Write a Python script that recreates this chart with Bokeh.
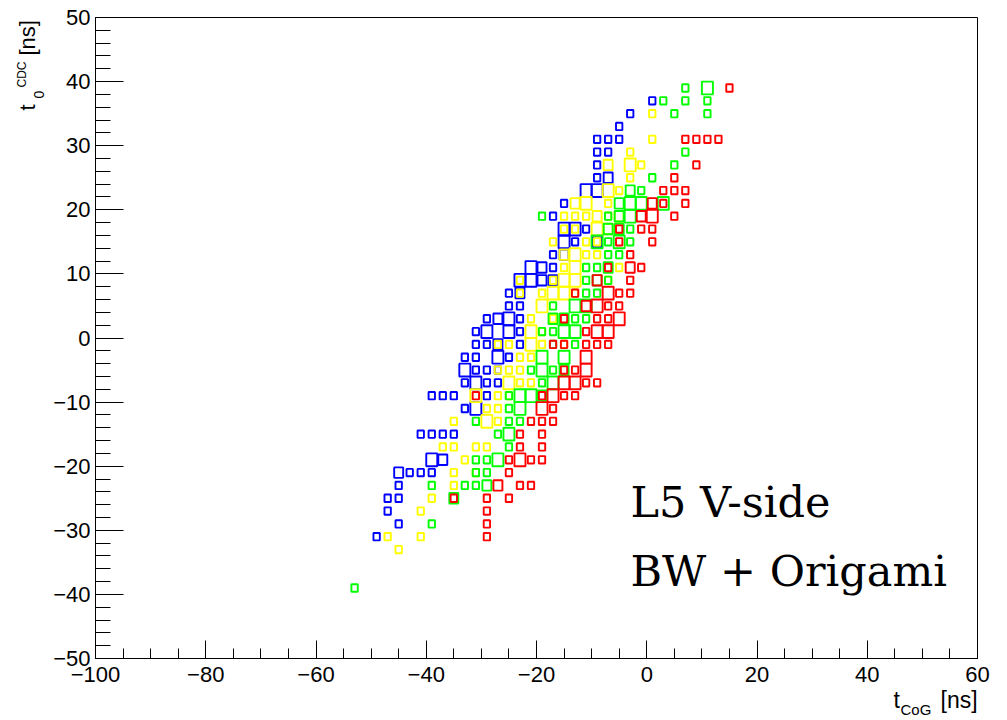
import math
from bokeh.plotting import figure
from bokeh.models import Range1d, FixedTicker, Label, LinearAxis
from bokeh.embed import file_html
from bokeh.resources import INLINE

# ---- data: 2D histogram bins (bin centre x, bin centre y, count) ----
blue_x = [1, -3, -5, -9, -7, -5, -9, -7, -9, -9, -7, -11, -9, -15, -17, -15, -13, -11,
          -15, -13, -9, -17, -15, -21, -19, -17, -23, -21, -19, -17, -25, -23, -25, -23,
          -29, -27, -25, -23, -31, -29, -25, -23, -31, -29, -27, -23, -33, -31, -27, -25,
          -33, -31, -29, -27, -33, -31, -29, -27, -39, -37, -35, -29, -33, -31,
          -41, -39, -37, -35, -39, -37, -45, -43, -41, -39, -45, -47, -45, -47, -45, -49]
blue_y = [37, 35, 33, 31, 31, 31, 29, 29, 27, 25, 25, 23, 23, 21, 19, 17, 17, 17,
          15, 15, 15, 13, 13, 11, 11, 11, 9, 9, 9, 9, 7, 7, 5, 5,
          3, 3, 3, 3, 1, 1, 1, 1, -1, -1, -1, -1, -3, -3, -3, -3,
          -5, -5, -5, -5, -7, -7, -7, -7, -9, -9, -9, -9, -11, -11,
          -15, -15, -15, -15, -19, -19, -21, -21, -21, -21, -23, -25, -25, -27, -29, -31]
blue_n = [1, 1, 1, 1, 1, 1, 1, 1, 1, 1, 2, 3, 3, 1, 1, 3, 3, 1,
          3, 1, 2, 1, 2, 3, 2, 1, 3, 3, 2, 2, 1, 2, 1, 1,
          1, 2, 3, 1, 1, 3, 3, 1, 1, 1, 2, 1, 1, 1, 3, 1,
          3, 1, 1, 1, 1, 3, 1, 1, 1, 1, 1, 1, 1, 3,
          1, 1, 1, 1, 3, 2, 2, 1, 1, 1, 1, 1, 1, 1, 1, 1]

yellow_x = [1, 1, -3, -7, -3, -1, -3, -7, -5, -13, -11, -7,
            -15, -13, -11, -9, -7, -5, -15, -13, -9, -7, -17, -11, -9,
            -15, -13, -11, -9, -15, -13, -5, -23, -17, -15, -13, -7,
            -23, -19, -17, -15, -13, -19, -21, -17, -21, -19,
            -27, -25, -21, -19, -15, -23, -21, -27, -25, -23, -25, -23, -21,
            -31, -27, -25, -29, -27, -35, -29, -27, -37, -35, -31, -29,
            -33, -35, -31, -35, -39, -41, -47, -41, -45]
yellow_y = [35, 31, 29, 27, 27, 27, 25, 23, 23, 21, 21, 21,
            19, 19, 19, 19, 19, 19, 17, 17, 17, 17, 15, 15, 15,
            13, 13, 13, 13, 11, 11, 11, 9, 9, 9, 9, 9,
            7, 7, 7, 7, 7, 5, 3, 3, 1, 1,
            -1, -1, -1, -1, -1, -3, -3, -5, -5, -5, -7, -7, -7,
            -9, -9, -9, -11, -11, -13, -13, -13, -17, -17, -17, -17,
            -19, -21, -21, -23, -25, -27, -31, -31, -33]
yellow_n = [1, 1, 1, 2, 3, 1, 1, 3, 1, 2, 3, 1,
            1, 1, 1, 2, 1, 2, 1, 1, 3, 2, 1, 1, 1,
            2, 3, 1, 1, 1, 3, 1, 1, 1, 3, 3, 1,
            1, 1, 3, 3, 1, 3, 1, 1, 3, 1,
            1, 1, 3, 1, 1, 1, 1, 1, 1, 1, 3, 1, 1,
            3, 1, 1, 1, 1, 1, 3, 1, 1, 1, 1, 1,
            1, 1, 1, 1, 1, 1, 1, 1, 1]

green_x = [7, 11, 3, 7, 11, 5, 11, 7, 5, 1, -3, -1, -5, -3, -1, 3,
           -19, -7, -5, -3, -7, -5, -3, -9, -7, -5, -3, -7, -5,
           -11, -9, -7, -11, -9, -7, -11, -9, -17, -13, -11,
           -17, -15, -13, -11, -19, -17, -15, -13, -17, -13, -19, -15,
           -21, -19, -17, -15, -19, -17, -25, -23, -21, -19, -25, -23,
           -31, -25, -23, -27, -25, -25, -31, -29, -27, -31, -29,
           -39, -33, -31, -29, -35, -39, -53]
green_y = [39, 39, 37, 37, 37, 35, 35, 29, 27, 25, 23, 23, 21, 21, 21, 21,
           19, 19, 19, 19, 17, 17, 17, 15, 15, 15, 15, 13, 13,
           11, 11, 11, 9, 9, 9, 7, 7, 5, 5, 5,
           3, 3, 3, 3, 1, 1, 1, 1, -1, -1, -3, -3,
           -5, -5, -5, -5, -7, -7, -9, -9, -9, -9, -11, -11,
           -13, -13, -13, -15, -15, -17, -19, -19, -19, -21, -21,
           -23, -23, -23, -23, -25, -29, -39]
green_n = [1, 3, 1, 1, 1, 1, 1, 1, 1, 1, 2, 1, 2, 3, 3, 3,
           1, 1, 2, 3, 2, 2, 1, 3, 1, 3, 1, 1, 1,
           1, 1, 2, 1, 2, 1, 1, 1, 1, 3, 3,
           2, 2, 1, 1, 1, 1, 3, 3, 1, 1, 3, 3,
           1, 3, 1, 2, 1, 3, 1, 3, 3, 2, 1, 3,
           1, 1, 1, 1, 3, 1, 1, 1, 3, 1, 1,
           1, 1, 1, 2, 2, 1, 1]

red_x = [15, 7, 9, 11, 13, 9, 5, 3, 5, 7, 1, 3, 7, -1, 1, 5,
         -5, -1, 1, -5, 1, -3, -7, -3, -1, -9, -3,
         -13, -7, -5, -3, -11, -9, -7, -5, -15, -9, -7, -5, -11, -9, -7,
         -17, -15, -11, -9, -7, -11, -15, -13, -11, -15, -13, -11, -9,
         -31, -19, -17, -15, -13, -19, -17, -21, -19, -17, -23, -19, -23, -19,
         -25, -23, -21, -19, -25, -27, -23, -21, -35, -29, -25, -29, -29, -29]
red_y = [39, 31, 31, 31, 31, 27, 25, 23, 23, 23, 21, 21, 21, 19, 19, 19,
         17, 17, 17, 15, 15, 13, 11, 11, 11, 9, 9,
         7, 7, 7, 7, 5, 5, 5, 5, 3, 3, 3, 3, 1, 1, 1,
         -1, -1, -1, -1, -1, -3, -5, -5, -5, -7, -7, -7, -7,
         -9, -9, -9, -9, -9, -11, -11, -13, -13, -13, -15, -15, -17, -17,
         -19, -19, -19, -19, -21, -23, -23, -23, -25, -25, -25, -27, -29, -31]
red_n = [1, 1, 1, 1, 1, 1, 1, 1, 1, 1, 2, 1, 1, 2, 3, 1,
         1, 1, 1, 1, 1, 1, 1, 2, 1, 2, 1,
         1, 3, 1, 1, 2, 3, 1, 1, 1, 1, 1, 3, 1, 3, 3,
         1, 1, 1, 1, 1, 3, 1, 1, 3, 3, 3, 1, 1,
         1, 1, 3, 1, 1, 3, 1, 1, 1, 1, 1, 1, 1, 1,
         1, 3, 1, 1, 1, 2, 1, 1, 1, 1, 1, 1, 1, 1]

x_major = [-100, -80, -60, -40, -20, 0, 20, 40, 60]
y_major = [-50, -40, -30, -20, -10, 0, 10, 20, 30, 40, 50]
X_LO, X_HI = -100, 60
Y_LO, Y_HI = -50, 50

BIN = 2.0
NMAX = 3.0

# page geometry (pixels): frame placed like the ROOT canvas
W, H = 1007, 720
FL, FR, FT, FB = 95, 977, 17, 658
kx = (FR - FL) / (X_HI - X_LO)
ky = (FB - FT) / (Y_HI - Y_LO)
x_start = X_LO - FL / kx
x_end = X_HI + (W - FR) / kx
y_end = Y_HI + FT / ky
y_start = Y_LO - (H - FB) / ky

p = figure(width=W, height=H, output_backend="svg", toolbar_location=None,
           x_range=Range1d(x_start, x_end), y_range=Range1d(y_start, y_end),
           min_border=0, background_fill_color="white", border_fill_color="white")
p.grid.visible = False
p.outline_line_color = None

series = [(blue_x, blue_y, blue_n, "#0000ff"),
          (yellow_x, yellow_y, yellow_n, "#ffff00"),
          (green_x, green_y, green_n, "#00ff00"),
          (red_x, red_y, red_n, "#ff0000")]
for xs, ys, ns, col in series:
    side = [BIN * math.sqrt(n / NMAX) for n in ns]
    p.rect(x=xs, y=ys, width=side, height=side, fill_alpha=0,
           line_color=col, line_width=1.9)

fnt = "Liberation Sans"
xa = p.xaxis[0]
ya = p.yaxis[0]
xa.fixed_location = Y_LO
ya.fixed_location = X_LO
xa.bounds = (X_LO, X_HI)
ya.bounds = (Y_LO, Y_HI)
for ax in (xa, ya):
    ax.major_tick_out = 0
    ax.minor_tick_out = 0
    ax.axis_line_color = "black"
    ax.major_tick_line_color = "black"
    ax.minor_tick_line_color = "black"
    ax.major_label_text_font = fnt
    ax.major_label_text_font_size = "22px"
    ax.major_label_text_color = "black"

xa.ticker = FixedTicker(ticks=x_major, minor_ticks=list(range(X_LO, X_HI + 1, 5)))
ya.ticker = FixedTicker(ticks=y_major, minor_ticks=list(range(Y_LO, Y_HI + 1, 2)))
xa.major_tick_in = 18
xa.minor_tick_in = 10
ya.major_tick_in = 28
ya.minor_tick_in = 15
xa.major_label_standoff = 8
ya.major_label_standoff = 5

# top and right frame edges (plain axes without ticks or labels)
top = LinearAxis(fixed_location=Y_HI, bounds=(X_LO, X_HI), ticker=FixedTicker(ticks=[]),
                 major_tick_line_color=None, minor_tick_line_color=None,
                 major_label_text_font_size="0px", axis_line_color="black")
right = LinearAxis(fixed_location=X_HI, bounds=(Y_LO, Y_HI), ticker=FixedTicker(ticks=[]),
                   major_tick_line_color=None, minor_tick_line_color=None,
                   major_label_text_font_size="0px", axis_line_color="black")
p.add_layout(top, "above")
p.add_layout(right, "right")


def dx(px):
    return x_start + px / kx


def dy(py):
    return y_end - py / ky


SHIFT = 0.39  # measured offset of the rendered baseline, in em


def lab(text, px, py, size, font=fnt, rotated=False):
    # (px, py): wanted start of the text on its baseline, in page pixels
    if rotated:
        ax_, ay_ = px - SHIFT * size, py
        ang = math.pi / 2
    else:
        ax_, ay_ = px, py - SHIFT * size
        ang = 0.0
    p.add_layout(Label(x=dx(ax_), y=dy(ay_), text=text, text_font=font,
                       text_font_size=f"{size}px", text_color="black", angle=ang,
                       text_align="left", text_baseline="alphabetic"))


# annotations
lab("L5 V-side", 630, 518, 43, font="DejaVu Serif")
lab("BW + Origami", 630, 587, 43, font="DejaVu Serif")

# x title: t_{CoG} [ns]
lab("t", 893, 708, 23)
lab("CoG", 900, 715, 15)
lab("[ns]", 940, 708, 23)

# y title: t_0^{CDC} [ns]
lab("t", 36, 110, 22, rotated=True)
lab("0", 44, 98, 14, rotated=True)
lab("CDC", 26, 87, 12, rotated=True)
lab("[ns]", 36, 55, 22, rotated=True)

open("out.html", "w").write(file_html(p, INLINE))
